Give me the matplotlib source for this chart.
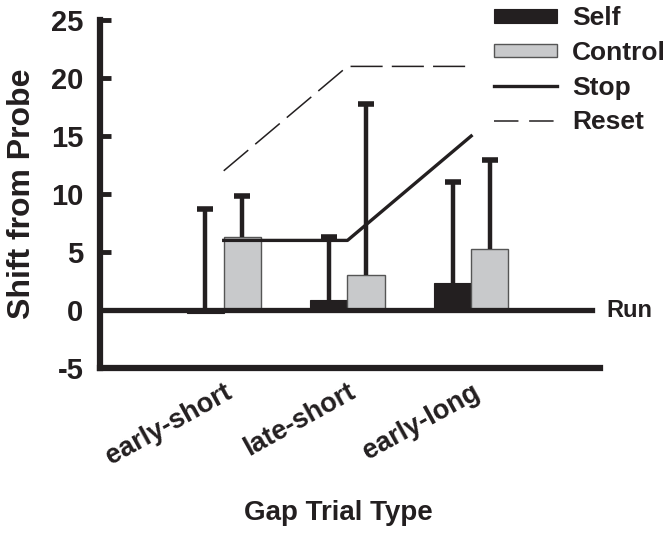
import matplotlib.pyplot as plt
import numpy as np
from matplotlib.lines import Line2D
from matplotlib.patches import Patch

plt.rcParams['font.family'] = ['Liberation Sans', 'DejaVu Sans']
plt.rcParams['font.weight'] = 'bold'
plt.rcParams['axes.unicode_minus'] = False

# data
trial_types = ["early-short", "late-short", "early-long"]
self_mean = [-0.3, 0.9, 2.3]
self_err = [9.0, 5.4, 8.7]
control_mean = [6.3, 3.0, 5.3]
control_err = [3.5, 14.8, 7.6]
stop_pred = [6.0, 6.0, 15.0]
reset_pred = [12.0, 21.0, 21.0]

ink = "#231f20"
grey = "#c8c9cb"
pos = np.arange(1, len(trial_types) + 1)
w = 0.30

fig = plt.figure(figsize=(6.71, 5.36), dpi=100)
ax = fig.add_axes([0.149, 0.3134, 0.745, 0.6493])

# bars
ax.bar(pos - w / 2, self_mean, width=w, color=ink, edgecolor=ink, linewidth=0.8, zorder=2)
ax.bar(pos + w / 2, control_mean, width=w, color=grey, edgecolor="#555555", linewidth=1.0, zorder=2)

# upward-only error bars (stem + top cap only)
for xs, m, e in [(pos - w / 2, self_mean, self_err), (pos + w / 2, control_mean, control_err)]:
    top = np.array(m) + np.array(e)
    ax.vlines(xs, m, top, color=ink, lw=3.2, zorder=3)
    ax.plot(xs, top, ls="none", marker="_", ms=12, mew=4, color=ink, zorder=3)

# model predictions
ax.plot(pos, stop_pred, color=ink, lw=2.4, zorder=4)
ax.plot(pos, reset_pred, color=ink, lw=1.1, dashes=(21, 6), zorder=4)

# Run baseline
ax.axhline(0, xmin=0, xmax=0.985, color=ink, lw=3.8, zorder=5)
ax.text(4.09, 0, "Run", fontsize=17, fontweight="bold", color=ink, va="center", ha="left",
        clip_on=False)

ax.set_xlim(0, 4.04)
ax.set_ylim(-5, 25)
ax.set_yticks(np.arange(-5, 26, 5))
ax.set_xticks(pos)
ax.set_xticklabels(trial_types, rotation=29, ha="right", rotation_mode="anchor",
                   fontsize=19.5, fontweight="bold", color=ink)
ax.tick_params(axis="x", length=0, pad=8)
ax.tick_params(axis="y", direction="in", length=8, width=3.5, pad=12,
               labelsize=21, labelcolor=ink, color=ink)
for lab in ax.get_yticklabels():
    lab.set_fontweight("bold")

for s in ["top", "right"]:
    ax.spines[s].set_visible(False)
for s in ["left", "bottom"]:
    ax.spines[s].set_linewidth(4.5)
    ax.spines[s].set_color(ink)
    ax.spines[s].set_capstyle("projecting")

ax.set_ylabel("Shift from Probe", fontsize=23, fontweight="bold", color=ink, labelpad=10)
fig.text(0.505, 0.043, "Gap Trial Type", fontsize=20, fontweight="bold", color=ink,
         ha="center", va="center")

handles = [
    Patch(facecolor=ink, edgecolor=ink, linewidth=0.8),
    Patch(facecolor=grey, edgecolor="#555555", linewidth=1.0),
    Line2D([0], [0], color=ink, lw=2.4),
    Line2D([0], [0], color=ink, lw=1.1, dashes=(16, 7)),
]
leg = fig.legend(handles, ["Self", "Control", "Stop", "Reset"], loc="upper left",
                 bbox_to_anchor=(0.736, 0.988), frameon=False, fontsize=19,
                 handlelength=2.39, handleheight=0.4, handletextpad=0.57, labelspacing=0.4,
                 borderpad=0, borderaxespad=0)
for t in leg.get_texts():
    t.set_color(ink)
    t.set_fontweight("bold")

fig.savefig("out.png", dpi=100)
